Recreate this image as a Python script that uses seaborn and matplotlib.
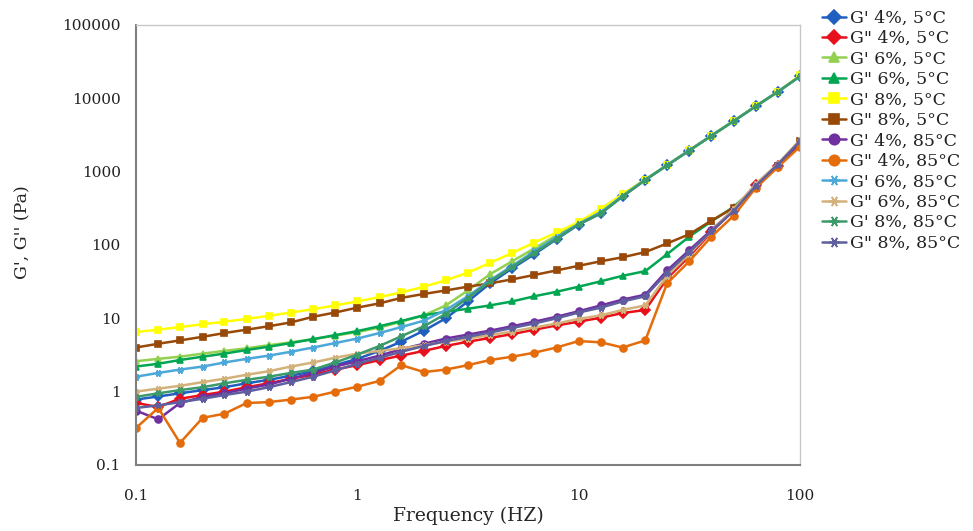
import numpy as np
import pandas as pd
import matplotlib
matplotlib.use("Agg")
import matplotlib.pyplot as plt
import seaborn as sns

# Frequency sweep (Hz), 10 points per decade
freq = [0.1, 0.126, 0.158, 0.2, 0.251, 0.316, 0.398, 0.501, 0.631, 0.794,
        1.0, 1.26, 1.58, 2.0, 2.51, 3.16, 3.98, 5.01, 6.31, 7.94,
        10.0, 12.6, 15.8, 20.0, 25.1, 31.6, 39.8, 50.1, 63.1, 79.4, 100.0]

# moduli (Pa)
g1_4_5 = [0.78, 0.86, 0.95, 1.05, 1.15, 1.3, 1.45, 1.65, 1.9, 2.3,
          2.8, 3.6, 4.8, 6.8, 10, 17, 30, 48, 75, 120,
          190, 270, 460, 770, 1220, 1940, 3080, 4880, 7780, 12250, 20000]
g2_4_5 = [0.7, 0.62, 0.8, 0.9, 1.0, 1.15, 1.3, 1.5, 1.7, 2.0,
          2.3, 2.7, 3.1, 3.6, 4.2, 4.8, 5.4, 6.1, 7.0, 8.0,
          9.0, 10.2, 11.8, 13.0, 35, 70, 150, 300, 650, 1200, 2300]
g1_6_5 = [2.6, 2.8, 3.0, 3.3, 3.6, 3.9, 4.3, 4.7, 5.2, 5.8,
          6.5, 7.5, 9.0, 11, 15, 24, 40, 60, 90, 135,
          200, 310, 490, 780, 1230, 1950, 3100, 4900, 7800, 12300, 20000]
g2_6_5 = [2.2, 2.4, 2.7, 3.0, 3.3, 3.7, 4.1, 4.6, 5.2, 5.9,
          6.7, 7.8, 9.2, 11, 12.3, 13.5, 15, 17, 20, 23,
          27, 32, 38, 44, 75, 130, 210, 330, 620, 1200, 2500]
g1_8_5 = [6.5, 7.0, 7.6, 8.3, 9.0, 9.8, 10.8, 12.0, 13.3, 15.0,
          17.0, 19.5, 22.5, 27, 33, 42, 57, 78, 108, 148,
          205, 310, 490, 780, 1230, 1950, 3100, 4900, 7800, 12300, 20500]
g2_8_5 = [4.0, 4.5, 5.0, 5.6, 6.3, 7.0, 7.8, 8.8, 10.5, 12.0,
          14.0, 16.0, 19.0, 21.5, 24, 27, 30, 34, 39, 45,
          52, 60, 68, 80, 105, 140, 215, 320, 600, 1200, 2600]
g1_4_85 = [0.55, 0.42, 0.7, 0.85, 0.95, 1.1, 1.25, 1.5, 1.8, 2.2,
           2.6, 3.1, 3.8, 4.5, 5.3, 6.0, 6.8, 7.8, 9.0, 10.5,
           12.5, 15, 18, 21, 45, 85, 160, 300, 650, 1250, 2400]
g2_4_85 = [0.32, 0.6, 0.2, 0.44, 0.5, 0.7, 0.72, 0.78, 0.85, 1.0,
           1.17, 1.4, 2.3, 1.85, 2.0, 2.3, 2.7, 3.0, 3.4, 4.0,
           4.9, 4.7, 4.0, 5.0, 30, 60, 130, 250, 600, 1150, 2200]
g1_6_85 = [1.6, 1.8, 2.0, 2.2, 2.5, 2.8, 3.1, 3.5, 4.0, 4.6,
           5.3, 6.3, 7.6, 9.3, 13, 20, 33, 52, 82, 128,
           195, 280, 470, 780, 1230, 1950, 3100, 4900, 7800, 12300, 20000]
g2_6_85 = [1.0, 1.1, 1.2, 1.35, 1.5, 1.7, 1.9, 2.2, 2.5, 2.9,
           3.3, 3.6, 3.9, 4.3, 4.8, 5.3, 5.9, 6.6, 7.5, 8.5,
           9.8, 11, 13, 15, 38, 75, 155, 310, 680, 1280, 2700]
g1_8_85 = [0.85, 0.95, 1.05, 1.15, 1.3, 1.45, 1.6, 1.8, 2.0, 2.5,
           3.2, 4.2, 5.7, 7.8, 11.5, 19, 32, 50, 78, 122,
           192, 270, 460, 770, 1220, 1940, 3080, 4880, 7780, 12250, 20000]
g2_8_85 = [0.6, 0.65, 0.72, 0.8, 0.9, 1.0, 1.15, 1.35, 1.6, 1.95,
           2.4, 2.9, 3.5, 4.2, 4.9, 5.6, 6.4, 7.4, 8.5, 10,
           12, 14, 17, 20, 42, 80, 155, 290, 640, 1250, 2600]

labels = ["G' 4%, 5°C", 'G" 4%, 5°C', "G' 6%, 5°C", 'G" 6%, 5°C',
          "G' 8%, 5°C", 'G" 8%, 5°C', "G' 4%, 85°C", 'G" 4%, 85°C',
          "G' 6%, 85°C", 'G" 6%, 85°C', "G' 8%, 85°C", 'G" 8%, 85°C']
series = [g1_4_5, g2_4_5, g1_6_5, g2_6_5, g1_8_5, g2_8_5,
          g1_4_85, g2_4_85, g1_6_85, g2_6_85, g1_8_85, g2_8_85]

colors = ["#1F5FBF", "#E8101A", "#92D050", "#00A651", "#FFFF00", "#984807",
          "#7030A0", "#E46C0A", "#4BA8D8", "#D2B27A", "#3C9A6A", "#5F5F9F"]
star = (6, 2, 90)
markers = ["D", "D", "^", "^", "s", "s", "o", "o", star, star, star, star]

sns.set_style("white")
plt.rcParams['font.family'] = ['DejaVu Serif']
plt.rcParams['text.color'] = "#222222"

fig = plt.figure(figsize=(9.73, 5.31), dpi=100)
ax = fig.add_axes([0.1398, 0.1243, 0.6824, 0.8287])

for vals, lab, col, mk in zip(series, labels, colors, markers):
    df = pd.DataFrame({"freq": freq, "G": vals})
    sns.lineplot(data=df, x="freq", y="G", ax=ax, color=col, marker=mk,
                 markersize=5, markeredgewidth=1.2, markeredgecolor=col,
                 linewidth=1.8, label=lab)

ax.set_xscale("log")
ax.set_yscale("log")
ax.set_xlim(0.1, 100)
ax.set_ylim(0.1, 100000)
ax.set_xticks([0.1, 1, 10, 100])
ax.set_xticklabels(["0.1", "1", "10", "100"])
ax.set_yticks([0.1, 1, 10, 100, 1000, 10000, 100000])
ax.set_yticklabels(["0.1", "1", "10", "100", "1000", "10000", "100000"])
ax.minorticks_off()
ax.tick_params(axis="both", which="major", direction="out", length=8,
               width=1.2, color="#808080", labelsize=11,
               labelcolor="#222222")
ax.tick_params(axis="x", pad=9)
ax.tick_params(axis="y", pad=3)

ax.set_xlabel("Frequency (HZ)", fontsize=13.5, labelpad=3)
ax.set_ylabel("G', G'' (Pa)", fontsize=12.5, labelpad=4)
ax.yaxis.set_label_coords(-0.158, 0.53)

for side in ["left", "bottom"]:
    ax.spines[side].set_color("#808080")
    ax.spines[side].set_linewidth(1.5)
for side in ["top", "right"]:
    ax.spines[side].set_color("#C8C8C8")
    ax.spines[side].set_linewidth(1.0)

leg = ax.legend(loc="upper left", bbox_to_anchor=(0.838, 0.995),
                bbox_transform=fig.transFigure, frameon=False,
                fontsize=12.5, markerscale=1.5, handlelength=1.35,
                handletextpad=0.25, labelspacing=0.2, borderaxespad=0)

fig.savefig("out.png", dpi=100)
